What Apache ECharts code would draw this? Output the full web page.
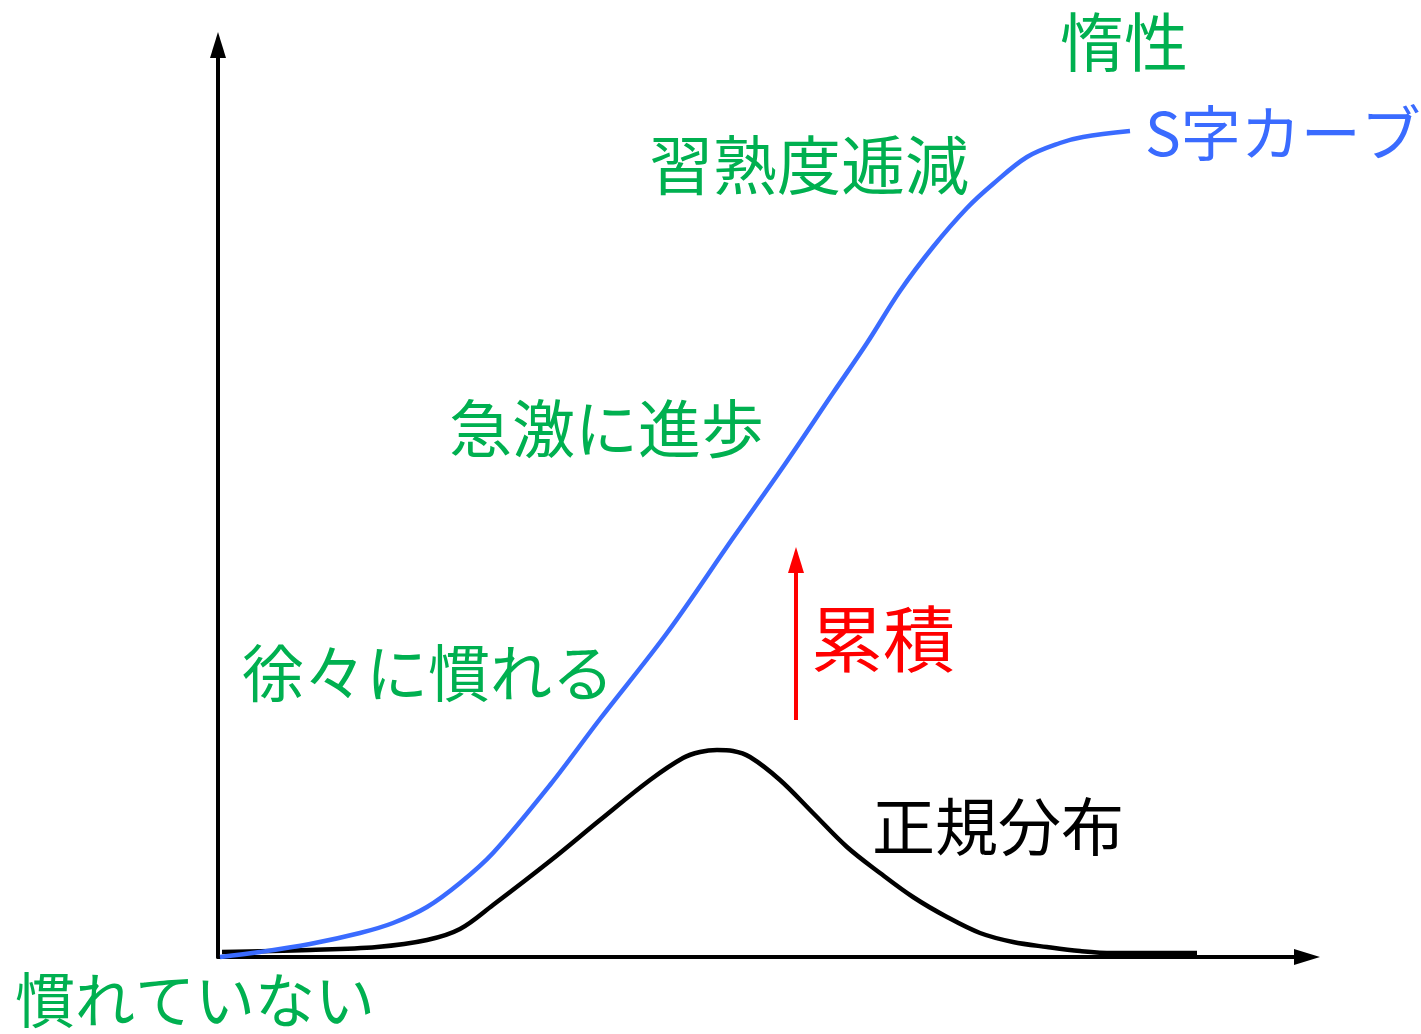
<!DOCTYPE html>
<html>
<head>
<meta charset="utf-8">
<script src="https://cdn.jsdelivr.net/npm/echarts@6/dist/echarts.min.js"></script>
<style>
html,body{margin:0;padding:0;background:#fff;}
#main{width:1421px;height:1034px;}
</style>
</head>
<body>
<div id="main"></div>
<script>
// S-curve (cumulative skill) – [x, y] in arbitrary units
const sCurve = [
  [2,0],[42,5],[92,13],[142,24],[175,34],[209,50],[242,74],[275,104],
  [332,172],[382,238],[449,324],[515,419],[565,490],[615,564],[649,614],[682,666],
  [715,710],[749,749],[775,773],[809,800],[842,814],[865,820],[912,826]
];
// normal distribution curve
const normalCurve = [
  [4,5],[92,7],[159,10],[209,17],[242,28],[275,52],[332,96],[382,137],
  [432,177],[465,199],[482,205],[499,207],[515,206],[532,200],[562,177],[595,144],
  [629,110],[662,84],[695,60],[729,40],[762,24],[795,15],[829,10],[862,6],[895,4],[979,4]
];
// "accumulation" arrow: start, end
const accumArrow = [[578,237],[578,397]];
// axis ranges
const xRange = [0, 1089];
const yRange = [0, 912];
// text labels
const labels = {
  inertia: '惰性',
  sCurveName: 'S字カーブ',
  diminishing: '習熟度逓減',
  rapid: '急激に進歩',
  gradual: '徐々に慣れる',
  accumulate: '累積',
  normalName: '正規分布',
  unused: '慣れていない'
};

const FONT = '"Noto Sans CJK JP", "Noto Sans", sans-serif';
const GREEN = '#00B050';
const BLUE = '#3A6BFF';

const chart = echarts.init(document.getElementById('main'), null, {renderer: 'canvas'});

function txt(text, x, y, size, color) {
  return {
    type: 'text', left: x, top: y - size * 0.5,
    style: { text: text, fill: color, font: 'normal ' + size + 'px ' + FONT }
  };
}

const axisCommon = {
  type: 'value',
  splitLine: {show: false},
  axisTick: {show: false},
  axisLabel: {show: false},
  axisLine: {
    show: true,
    symbol: ['none', 'triangle'],
    symbolSize: [16, 26],
    lineStyle: {color: '#000', width: 4}
  }
};

chart.setOption({
  animation: false,
  backgroundColor: '#fff',
  grid: {left: 218, right: 114, top: 45, bottom: 77},
  xAxis: Object.assign({}, axisCommon, {min: xRange[0], max: xRange[1]}),
  yAxis: Object.assign({}, axisCommon, {min: yRange[0], max: yRange[1]}),
  series: [
    {
      type: 'line',
      data: normalCurve,
      smooth: 0.35,
      showSymbol: false,
      clip: false,
      lineStyle: {color: '#000', width: 4.5},
      markLine: {
        silent: true,
        symbol: ['none', 'triangle'],
        symbolSize: [16, 26],
        label: {show: false},
        lineStyle: {color: '#FF0000', width: 4, type: 'solid'},
        data: [[{coord: accumArrow[0]}, {coord: accumArrow[1]}]]
      }
    },
    {
      type: 'line',
      data: sCurve,
      smooth: 0.35,
      showSymbol: false,
      clip: false,
      lineStyle: {color: BLUE, width: 4.5}
    }
  ],
  graphic: [
    txt(labels.inertia, 1060, 42, 64, GREEN),
    txt(labels.sCurveName, 1145, 133, 60, BLUE),
    txt(labels.diminishing, 649, 165, 64, GREEN),
    txt(labels.rapid, 449, 428, 63, GREEN),
    txt(labels.gradual, 242, 673, 62, GREEN),
    txt(labels.accumulate, 811, 639, 72, '#FF0000'),
    txt(labels.normalName, 872, 826, 63, '#000'),
    txt(labels.unused, 15, 1000, 60, GREEN)
  ]
});
</script>
</body>
</html>
